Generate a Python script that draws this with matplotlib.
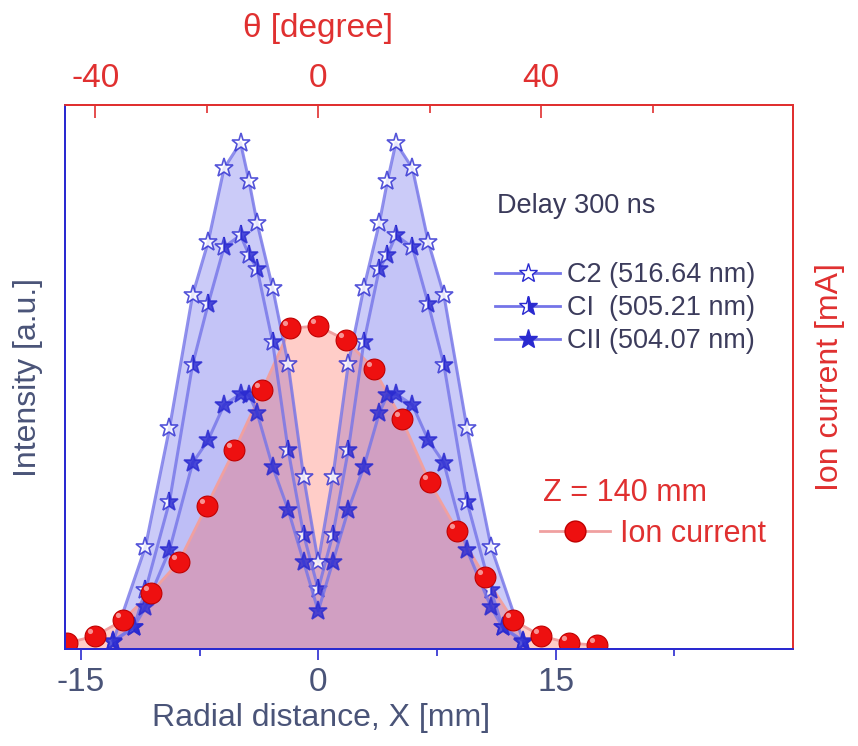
import matplotlib
matplotlib.use("Agg")
import matplotlib.pyplot as plt
import numpy as np
from matplotlib.path import Path
from matplotlib.lines import Line2D

plt.rcParams['font.family'] = ['Liberation Sans', 'DejaVu Sans']
plt.rcParams['axes.unicode_minus'] = False

# ---------------------------------------------------------------
# data (intensity in a.u., 0..100 of the frame)
# ---------------------------------------------------------------
x_c2 = [-12.97, -10.92, -9.40, -7.94, -6.96, -5.95, -4.91, -4.37, -3.86, -2.88, -1.90, -0.92,
        0.0, 0.92, 1.90, 2.88, 3.86, 4.37, 4.91, 5.95, 6.96, 7.94, 9.40, 10.92, 12.97]
c2 = [1.3, 18.8, 40.6, 65.1, 74.8, 88.4, 93.1, 86.0, 78.3, 66.4, 52.4, 31.6,
      16.0, 31.6, 52.4, 66.4, 78.3, 86.0, 93.1, 88.4, 74.8, 65.1, 40.6, 18.8, 1.3]

x_c = [-12.97, -11.65, -10.92, -9.40, -7.94, -6.96, -5.95, -4.91, -4.37, -3.86, -2.88, -1.90, -0.92,
       0.0, 0.92, 1.90, 2.88, 3.86, 4.37, 4.91, 5.95, 6.96, 7.94, 9.40, 10.92, 11.65, 12.97]
ci = [1.3, 4.0, 10.8, 27.1, 52.3, 63.4, 73.9, 76.1, 72.4, 69.9, 56.4, 36.6, 21.0,
      11.0, 21.0, 36.6, 56.4, 69.9, 72.4, 76.1, 73.9, 63.4, 52.3, 27.1, 10.8, 4.0, 1.3]
cii = [1.5, 4.0, 7.7, 18.2, 34.2, 38.4, 44.9, 46.9, 46.7, 43.4, 33.5, 25.6, 16.0,
       7.0, 16.0, 25.6, 33.5, 43.4, 46.7, 46.9, 44.9, 38.4, 34.2, 18.2, 7.7, 4.0, 1.5]

theta = [-45, -40, -35, -30, -25, -20, -15, -10, -5, 0, 5, 10, 15, 20, 25, 30, 35, 40, 45, 50]
ion = [1.1, 2.4, 5.3, 10.3, 16.0, 26.3, 36.6, 47.6, 59.0, 59.4,
       56.8, 51.5, 42.3, 30.7, 21.7, 13.2, 5.3, 2.4, 1.1, 0.7]

labels = ["C2 (516.64 nm)", "CI  (505.21 nm)", "CII (504.07 nm)"]

BLUE = "#2a2ad0"
LINE_BLUE = "#7474e8"
RED = "#e03030"
SLATE = "#4a5478"
X_LIM = (-16, 30)
TH_LIM = (-45.4, 85.2)

fig = plt.figure(figsize=(8.58, 7.46), dpi=100)
ax = fig.add_axes([0.0758, 0.130, 0.8484, 0.729])   # X / intensity: blue fills + bottom axis
axT = ax.twiny()                                     # theta: ion fill + top axis
axS = ax.twiny()                                     # X again: star lines
axB = ax.twiny()                                     # theta again: red balls
ax2 = ax.twinx()                                     # right label only

for z, a in enumerate((ax, axT, axS, axB, ax2)):
    a.set_zorder(z)
    if z:
        a.patch.set_visible(False)

# blue emission profiles (fills)
ax.fill_between(x_c2, 0, c2, color="#8c8cf0", alpha=0.45, lw=0)
ax.fill_between(x_c, 0, ci, color="#8c8cf0", alpha=0.10, lw=0)
ax.fill_between(x_c, 0, cii, color="#8c8cf0", alpha=0.10, lw=0)

# ion current fill
axT.fill_between(theta, 0, ion, color="#ff5a4a", alpha=0.30, lw=0)
axT.plot(theta, ion, '-', color="#f0a0a0", lw=2)

# star lines
ms = 14
axS.plot(x_c2, c2, '-', color=LINE_BLUE, lw=2.2, alpha=0.8, marker='*', ms=ms,
         mfc='white', mec=BLUE, mew=1.2)
axS.plot(x_c, ci, '-', color=LINE_BLUE, lw=2.2, alpha=0.8, marker='*', ms=ms,
         mfc=BLUE, mfcalt='white', fillstyle='right', mec=BLUE, mew=1.2)
axS.plot(x_c, cii, '-', color=LINE_BLUE, lw=2.2, alpha=0.8, marker='*', ms=ms,
         mfc=BLUE, mec=BLUE, mew=1.2)

# red balls on top
axB.plot(theta, ion, 'o', ms=15, mfc="#ee1010", mec="#c00000", mew=0.8)
hl = Path.circle((-0.33, 0.33), 0.17)
axB.plot(theta, ion, ls='none', marker=hl, ms=11, mfc="white", mec="none", alpha=0.55)

ax.set_xlim(*X_LIM)
axS.set_xlim(*X_LIM)
axT.set_xlim(*TH_LIM)
axB.set_xlim(*TH_LIM)
for a in (ax, axT, axS, axB, ax2):
    a.set_ylim(0, 100)

ax.set_xticks([-15, 0, 15])
ax.set_xticks([-7.5, 7.5, 22.5], minor=True)
ax.set_yticks([])
ax.tick_params(axis='x', which='both', direction='out', colors=BLUE, labelcolor=SLATE,
               labelsize=24, pad=5, top=False)
ax.tick_params(axis='x', which='major', length=8, width=1.2)
ax.tick_params(axis='x', which='minor', length=5, width=1.2)
ax.set_xlabel("Radial distance, X [mm]", fontsize=23, color=SLATE)
ax.xaxis.set_label_coords(0.352, -0.100)
ax.set_ylabel("Intensity [a.u.]", fontsize=23, color=SLATE, labelpad=16)

axT.set_xticks([-40, 0, 40])
axT.set_xticks([-20, 20, 60], minor=True)
axT.tick_params(axis='x', which='both', direction='in', colors=RED, labelcolor=RED,
                labelsize=24, pad=8)
axT.tick_params(axis='x', which='major', length=9, width=1.2)
axT.tick_params(axis='x', which='minor', length=6, width=1.2)
axT.set_xlabel("θ [degree]", fontsize=24, color=RED)
axT.xaxis.set_label_coords(0.347, 1.125)

for a in (axS, axB):
    a.set_xticks([])
    a.tick_params(axis='x', which='both', top=False, labeltop=False)

ax2.set_yticks([])
ax2.set_ylabel("Ion current [mA]", fontsize=23, color=RED, labelpad=16)

for a in (ax, axT, axS, axB, ax2):
    a.spines['left'].set_color(BLUE)
    a.spines['bottom'].set_color(BLUE)
    a.spines['top'].set_color(RED)
    a.spines['right'].set_color(RED)
    for s in a.spines.values():
        s.set_linewidth(1.3)

# legends
fig.text(497 / 858, 1 - 206 / 746, "Delay 300 ns", fontsize=19.5, color="#3a3a5a",
         va='center', ha='left')
h_c2 = Line2D([], [], color=LINE_BLUE, lw=2, marker='*', ms=ms, mfc='white', mec=BLUE)
h_ci = Line2D([], [], color=LINE_BLUE, lw=2, marker='*', ms=ms, mfc=BLUE,
              mfcalt='white', fillstyle='right', mec=BLUE)
h_cii = Line2D([], [], color=LINE_BLUE, lw=2, marker='*', ms=ms, mfc=BLUE, mec=BLUE)
leg1 = fig.legend([h_c2, h_ci, h_cii], labels, loc='upper left',
                  bbox_to_anchor=(495 / 858, 1 - 262 / 746),
                  frameon=False, fontsize=19.5, handlelength=2.4, handletextpad=0.26,
                  borderpad=0, labelspacing=0.26, borderaxespad=0)
for t in leg1.get_texts():
    t.set_color("#3c3c5c")

fig.text(543 / 858, 1 - 493 / 746, "Z = 140 mm", fontsize=22, color=RED,
         va='center', ha='left')
h_ion = Line2D([], [], color="#f0a0a0", lw=2, marker='o', ms=15, mfc="#ee1010", mec="#c00000")
leg2 = fig.legend([h_ion], ["Ion current"], loc='upper left',
                  bbox_to_anchor=(540 / 858, 1 - 519 / 746),
                  frameon=False, fontsize=22, handlelength=2.3, handletextpad=0.33,
                  borderpad=0, borderaxespad=0)
for t in leg2.get_texts():
    t.set_color(RED)

fig.savefig("out.png", dpi=100)
